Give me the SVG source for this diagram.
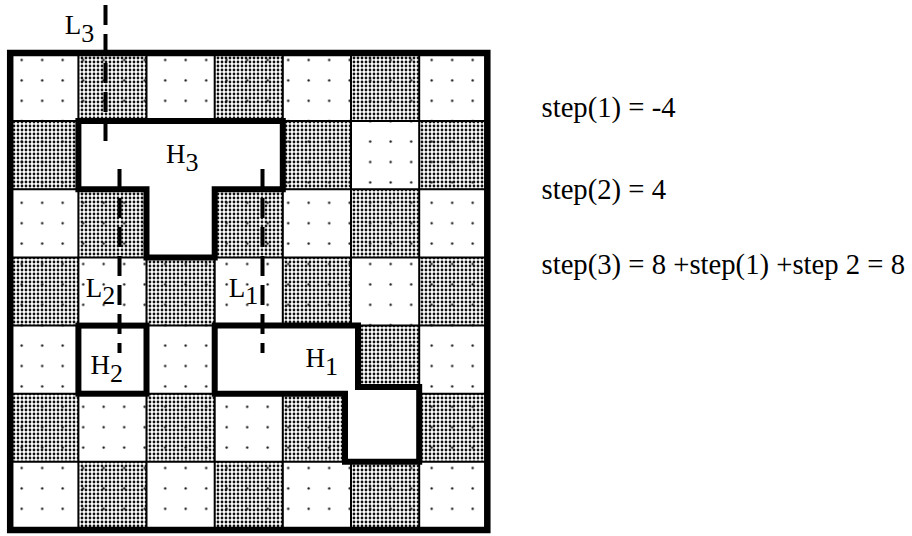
<svg xmlns="http://www.w3.org/2000/svg" width="912" height="536" viewBox="0 0 912 536">
<defs>
<pattern id="sparse" patternUnits="userSpaceOnUse" x="11.45" y="49.8" width="20.5" height="20.4">
<circle cx="10.25" cy="10.2" r="1.15" fill="#111"/>
</pattern>
<pattern id="dense" patternUnits="userSpaceOnUse" x="0" y="0" width="4" height="4">
<circle cx="2" cy="2" r="1.4" fill="#111"/>
</pattern>
</defs>
<style>
.s{fill:url(#sparse)}
.d{fill:url(#dense)}
.grid line{stroke:#000;stroke-width:2}
.hole{fill:#fff;stroke:#000;stroke-width:6;stroke-linejoin:miter}
.dash{stroke:#000;stroke-width:4;stroke-dasharray:20 9;fill:none}
text{font-family:"Liberation Serif","Times New Roman",serif;fill:#000}
.lbl{font-size:27px}
.sub{font-size:26px}
.eq{font-size:28.7px}
</style>
<rect width="912" height="536" fill="#fff"/>
<g id="board">
<rect class="s" x="10.2" y="53" width="477.1" height="477"/>
<g id="dense-cells">
<rect class="d" x="78.4" y="53" width="68.2" height="68.2"/>
<rect class="d" x="214.7" y="53" width="68.2" height="68.2"/>
<rect class="d" x="351" y="53" width="68.2" height="68.2"/>
<rect class="d" x="10.2" y="121.1" width="68.2" height="68.2"/>
<rect class="d" x="146.5" y="121.1" width="68.2" height="68.2"/>
<rect class="d" x="282.8" y="121.1" width="68.2" height="68.2"/>
<rect class="d" x="419.2" y="121.1" width="68.2" height="68.2"/>
<rect class="d" x="78.4" y="189.3" width="68.2" height="68.2"/>
<rect class="d" x="214.7" y="189.3" width="68.2" height="68.2"/>
<rect class="d" x="351" y="189.3" width="68.2" height="68.2"/>
<rect class="d" x="10.2" y="257.4" width="68.2" height="68.2"/>
<rect class="d" x="146.5" y="257.4" width="68.2" height="68.2"/>
<rect class="d" x="282.8" y="257.4" width="68.2" height="68.2"/>
<rect class="d" x="419.2" y="257.4" width="68.2" height="68.2"/>
<rect class="d" x="78.4" y="325.6" width="68.2" height="68.2"/>
<rect class="d" x="214.7" y="325.6" width="68.2" height="68.2"/>
<rect class="d" x="351" y="325.6" width="68.2" height="68.2"/>
<rect class="d" x="10.2" y="393.7" width="68.2" height="68.2"/>
<rect class="d" x="146.5" y="393.7" width="68.2" height="68.2"/>
<rect class="d" x="282.8" y="393.7" width="68.2" height="68.2"/>
<rect class="d" x="419.2" y="393.7" width="68.2" height="68.2"/>
<rect class="d" x="78.4" y="461.8" width="68.2" height="68.2"/>
<rect class="d" x="214.7" y="461.8" width="68.2" height="68.2"/>
<rect class="d" x="351" y="461.8" width="68.2" height="68.2"/>
</g>
<g class="grid">
<line x1="78.4" y1="53" x2="78.4" y2="530"/>
<line x1="146.5" y1="53" x2="146.5" y2="530"/>
<line x1="214.7" y1="53" x2="214.7" y2="530"/>
<line x1="282.8" y1="53" x2="282.8" y2="530"/>
<line x1="351" y1="53" x2="351" y2="530"/>
<line x1="419.2" y1="53" x2="419.2" y2="530"/>
<line x1="10.2" y1="121.1" x2="487.3" y2="121.1"/>
<line x1="10.2" y1="189.3" x2="487.3" y2="189.3"/>
<line x1="10.2" y1="257.4" x2="487.3" y2="257.4"/>
<line x1="10.2" y1="325.6" x2="487.3" y2="325.6"/>
<line x1="10.2" y1="393.7" x2="487.3" y2="393.7"/>
<line x1="10.2" y1="461.8" x2="487.3" y2="461.8"/>
</g>
<rect x="10.2" y="53" width="477.1" height="477" fill="none" stroke="#000" stroke-width="6.5"/>
</g>
<g id="H3">
<polygon class="hole" points="78.4,121.1 282.8,121.1 282.8,189.3 214.7,189.3 214.7,257.4 146.5,257.4 146.5,189.3 78.4,189.3"/>
<text class="lbl" x="166" y="163.3">H<tspan class="sub" dy="7.5">3</tspan></text>
</g>
<g id="H2">
<rect class="hole" x="78.4" y="325.6" width="68.1" height="68.1"/>
<text class="lbl" x="90.5" y="374">H<tspan class="sub" dy="7.5">2</tspan></text>
</g>
<g id="H1">
<polygon class="hole" points="214.7,325.6 358,325.6 358,387 419.2,387 419.2,461.8 345,461.8 345,393.7 214.7,393.7"/>
<text class="lbl" x="305.5" y="367.3">H<tspan class="sub" dy="7.5">1</tspan></text>
</g>
<g id="connectors">
<line id="L3-line" class="dash" x1="105.5" y1="5" x2="105.5" y2="141"/>
<line id="L2-line" class="dash" x1="119.5" y1="169" x2="119.5" y2="353"/>
<line id="L1-line" class="dash" x1="262.5" y1="169" x2="262.5" y2="353"/>
</g>
<g id="L3">
<text class="lbl" x="64.7" y="34">L<tspan class="sub" dy="7.5">3</tspan></text>
</g>
<g id="L2">
<text class="lbl" x="85.7" y="296.7">L<tspan class="sub" dy="7">2</tspan></text>
</g>
<g id="L1">
<text class="lbl" x="228.7" y="296.7">L<tspan class="sub" dy="7">1</tspan></text>
</g>
<g id="equations">
<text class="eq" x="541.5" y="117">step(1) = -4</text>
<text class="eq" x="541.5" y="198.5">step(2) = 4</text>
<text class="eq" x="541.5" y="274">step(3) = 8 +step(1) +step 2 = 8</text>
</g>
</svg>
